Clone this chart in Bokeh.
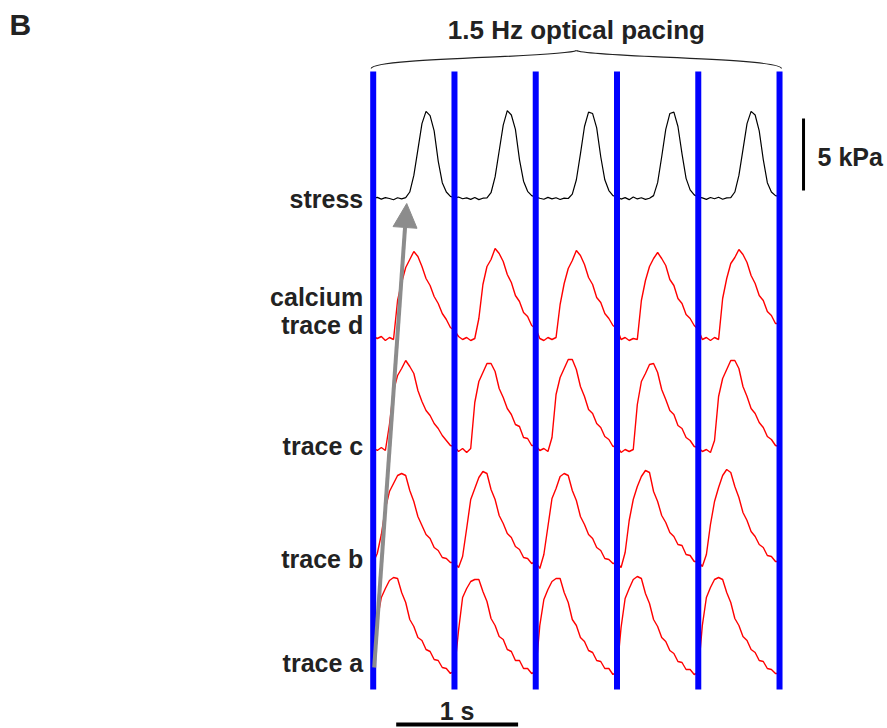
import numpy as np
from bokeh.plotting import figure
from bokeh.models import Range1d, Arrow, NormalHead
from bokeh.core.properties import value
from bokeh.embed import file_html
from bokeh.resources import INLINE

# ---- recordings: 30 samples/s, 1.5 Hz optical pacing (20 samples per beat) ----
fs = 30.0
stim_times = [0.0, 0.6667, 1.3333, 2.0, 2.6667, 3.3333]

# active stress (kPa)
stress_kpa = [
    0.02, 0.08, -0.04, 0.06, 0.00, -0.09, 0.05, -0.03, 0.06, 0.45, 1.60, 3.40, 5.20, 6.05, 5.75, 4.70, 2.60, 1.10, 0.45, 0.15,
    0.05, 0.10, -0.02, 0.04, -0.06, 0.07, -0.08, 0.02, 0.04, 0.40, 1.50, 3.30, 5.10, 6.10, 5.80, 4.80, 2.70, 1.20, 0.50, 0.20,
    0.10, 0.02, -0.05, 0.08, -0.03, 0.05, -0.07, 0.03, 0.00, 0.30, 1.30, 3.10, 5.00, 6.00, 5.90, 4.90, 2.90, 1.30, 0.55, 0.20,
    0.12, -0.04, 0.06, -0.08, 0.10, -0.03, 0.05, -0.06, 0.02, 0.20, 1.10, 2.90, 4.80, 5.90, 6.00, 5.00, 3.10, 1.40, 0.60, 0.25,
    0.10, 0.04, -0.06, 0.07, -0.02, 0.09, -0.05, 0.04, 0.06, 0.45, 1.60, 3.40, 5.20, 6.05, 5.80, 4.70, 2.70, 1.10, 0.45, 0.20,
    0.15,
]

# normalized calcium fluorescence, four sites
calcium_d = [
    0.04, 0.02, 0.04, 0.00, 0.03, 0.01, 0.40, 0.58, 0.73, 0.81, 0.89, 0.84, 0.74, 0.62, 0.55, 0.44, 0.37, 0.27, 0.21, 0.13,
    0.10, 0.04, 0.01, 0.03, 0.00, 0.02, 0.22, 0.56, 0.74, 0.81, 0.92, 0.87, 0.79, 0.66, 0.58, 0.45, 0.39, 0.28, 0.24, 0.15,
    0.12, 0.02, 0.00, 0.03, 0.01, 0.03, 0.36, 0.57, 0.72, 0.80, 0.90, 0.85, 0.76, 0.63, 0.56, 0.43, 0.38, 0.27, 0.22, 0.15,
    0.12, 0.01, 0.03, 0.00, 0.02, 0.01, 0.40, 0.60, 0.74, 0.82, 0.88, 0.82, 0.75, 0.61, 0.55, 0.42, 0.37, 0.26, 0.22, 0.15,
    0.11, 0.01, 0.03, 0.00, 0.03, 0.01, 0.42, 0.62, 0.77, 0.83, 0.91, 0.86, 0.78, 0.65, 0.57, 0.45, 0.40, 0.29, 0.25, 0.17,
    0.17,
]
calcium_c = [
    0.05, 0.02, 0.05, 0.02, 0.28, 0.62, 0.77, 0.84, 0.92, 0.86, 0.79, 0.62, 0.51, 0.42, 0.37, 0.29, 0.24, 0.17, 0.12, 0.07,
    0.06, 0.01, 0.04, 0.00, 0.04, 0.50, 0.71, 0.80, 0.89, 0.89, 0.81, 0.64, 0.55, 0.44, 0.38, 0.28, 0.26, 0.15, 0.14, 0.07,
    0.07, 0.02, 0.04, 0.01, 0.15, 0.58, 0.75, 0.84, 0.93, 0.93, 0.83, 0.66, 0.56, 0.43, 0.39, 0.29, 0.25, 0.16, 0.13, 0.06,
    0.07, 0.00, 0.03, 0.01, 0.03, 0.48, 0.71, 0.79, 0.88, 0.89, 0.80, 0.63, 0.53, 0.42, 0.38, 0.27, 0.24, 0.15, 0.12, 0.06,
    0.05, 0.01, 0.03, 0.00, 0.12, 0.56, 0.74, 0.83, 0.92, 0.92, 0.84, 0.66, 0.56, 0.44, 0.39, 0.30, 0.25, 0.16, 0.13, 0.07,
    0.06,
]
calcium_b = [
    0.06, 0.15, 0.34, 0.60, 0.77, 0.85, 0.93, 0.95, 0.93, 0.78, 0.67, 0.52, 0.43, 0.34, 0.30, 0.21, 0.18, 0.11, 0.10, 0.06,
    0.06, 0.01, 0.12, 0.40, 0.69, 0.80, 0.91, 0.97, 0.95, 0.79, 0.69, 0.53, 0.45, 0.35, 0.31, 0.22, 0.19, 0.11, 0.10, 0.05,
    0.07, 0.00, 0.14, 0.42, 0.70, 0.80, 0.92, 0.95, 0.93, 0.78, 0.68, 0.52, 0.44, 0.34, 0.30, 0.21, 0.18, 0.10, 0.09, 0.05,
    0.06, 0.01, 0.16, 0.48, 0.69, 0.82, 0.92, 0.98, 0.96, 0.77, 0.67, 0.53, 0.46, 0.36, 0.32, 0.24, 0.23, 0.14, 0.13, 0.07,
    0.07, 0.02, 0.14, 0.44, 0.67, 0.81, 0.93, 0.99, 0.96, 0.82, 0.71, 0.56, 0.48, 0.37, 0.32, 0.24, 0.21, 0.13, 0.12, 0.07,
    0.07,
]
calcium_a = [
    0.10, 0.55, 0.78, 0.87, 0.95, 0.98, 0.97, 0.83, 0.73, 0.56, 0.49, 0.38, 0.35, 0.26, 0.24, 0.16, 0.15, 0.08, 0.07, 0.02,
    0.05, 0.45, 0.78, 0.87, 0.94, 0.96, 0.96, 0.84, 0.74, 0.57, 0.50, 0.39, 0.36, 0.26, 0.24, 0.15, 0.15, 0.07, 0.07, 0.02,
    0.04, 0.50, 0.76, 0.86, 0.94, 0.97, 0.97, 0.83, 0.73, 0.56, 0.50, 0.38, 0.34, 0.25, 0.23, 0.15, 0.14, 0.07, 0.07, 0.01,
    0.04, 0.48, 0.77, 0.87, 0.96, 0.99, 0.97, 0.82, 0.72, 0.56, 0.49, 0.38, 0.34, 0.25, 0.22, 0.14, 0.13, 0.06, 0.06, 0.01,
    0.03, 0.50, 0.78, 0.88, 0.96, 0.98, 0.96, 0.83, 0.73, 0.57, 0.50, 0.39, 0.35, 0.26, 0.23, 0.15, 0.14, 0.07, 0.06, 0.02,
    0.02,
]

row_labels = ["stress", "calcium", "trace d", "trace c", "trace b", "trace a"]
title_text = "1.5 Hz optical pacing"
stress_bar_kpa = 5
time_bar_s = 1

# ---- layout (screen units: y grows downward, x in seconds) ----
W, H = 887, 728
PX_PER_S = 121.9          # horizontal scale
X0_PX = 372.7             # where t = 0 sits
STRESS_ROW = 198          # stress zero line
STRESS_SCALE = 14.4       # px per kPa
CA_SCALE = 100            # px per normalized unit
CA_ROWS = [340, 452, 568, 675]   # zero lines of traces d, c, b, a
LABEL_MIDDLES = [198, 296, 324, 445, 558, 662]
STIM_TOP, STIM_BOTTOM = 71, 689
FONT = value("Liberation Sans")
TEXT_COLOR = "#222222"


def px(dx):
    """Screen offset in px -> seconds."""
    return dx / PX_PER_S


p = figure(width=W, height=H,
           x_range=Range1d(-X0_PX / PX_PER_S, (W - X0_PX) / PX_PER_S),
           y_range=Range1d(H, 0),
           x_axis_type=None, y_axis_type=None,
           output_backend="svg", toolbar_location=None,
           min_border=0, min_border_left=0, min_border_right=0,
           min_border_top=0, min_border_bottom=0)
p.outline_line_color = None
p.background_fill_color = "white"
p.border_fill_color = "white"
p.grid.visible = False

t = np.arange(len(stress_kpa)) / fs

# stress trace
p.line(t, STRESS_ROW - np.array(stress_kpa) * STRESS_SCALE,
       line_color="black", line_width=1.2)

# calcium traces
for row, trace in zip(CA_ROWS, [calcium_d, calcium_c, calcium_b, calcium_a]):
    p.line(t, row - np.array(trace) * CA_SCALE, line_color="#ff0000", line_width=1.4)

# optical stimulation pulses
p.segment(x0=stim_times, y0=[STIM_TOP] * len(stim_times),
          x1=stim_times, y1=[STIM_BOTTOM] * len(stim_times),
          line_color="#0000ff", line_width=6)

# delay arrow: calcium onset -> stress onset
arrow_gray = "#8c8c8c"
p.add_layout(Arrow(end=NormalHead(size=24, fill_color=arrow_gray, line_color=arrow_gray),
                   x_start=stim_times[0] + px(1), y_start=667,
                   x_end=0.275, y_end=203,
                   line_color=arrow_gray, line_width=4))

# brace over the pacing train
left, right = stim_times[0] - px(2), stim_times[-1] + px(2)
mid = (stim_times[0] + stim_times[-1]) / 2
p.bezier(x0=[left, right], y0=[68, 68], x1=[mid, mid], y1=[50, 50],
         cx0=[left + px(1), right - px(1)], cy0=[57, 57],
         cx1=[mid - px(11), mid + px(11)], cy1=[57, 57],
         line_color=TEXT_COLOR, line_width=1.2)

# scale bars
kpa_x = stim_times[-1] + px(24)
p.segment(x0=[kpa_x], y0=[STRESS_ROW - 0.55 * STRESS_SCALE],
          x1=[kpa_x], y1=[STRESS_ROW - (0.55 + stress_bar_kpa) * STRESS_SCALE],
          line_color="black", line_width=3)
s_x0 = stim_times[0] + px(23)
p.segment(x0=[s_x0], y0=[724], x1=[s_x0 + time_bar_s], y1=[724],
          line_color="black", line_width=4)

# texts
common = dict(text_font=FONT, text_font_style="bold", text_color=TEXT_COLOR,
              text_baseline="middle")
p.text(x=[stim_times[0]] * len(row_labels), y=LABEL_MIDDLES, text=row_labels,
       x_offset=-10, text_align="right", text_font_size="25px", **common)
p.text(x=[mid], y=[29], text=[title_text], text_align="center",
       text_font_size="26px", **common)
p.text(x=[kpa_x], y=[156], text=[f"{stress_bar_kpa} kPa"], x_offset=14,
       text_align="left", text_font_size="25px", **common)
p.text(x=[s_x0 + time_bar_s / 2], y=[710], text=[f"{time_bar_s} s"],
       text_align="center", text_font_size="25px", **common)
p.text(x=[-X0_PX / PX_PER_S + px(9)], y=[24], text=["B"],
       text_align="left", text_font_size="30px", **common)

open("out.html", "w").write(file_html(p, INLINE))
